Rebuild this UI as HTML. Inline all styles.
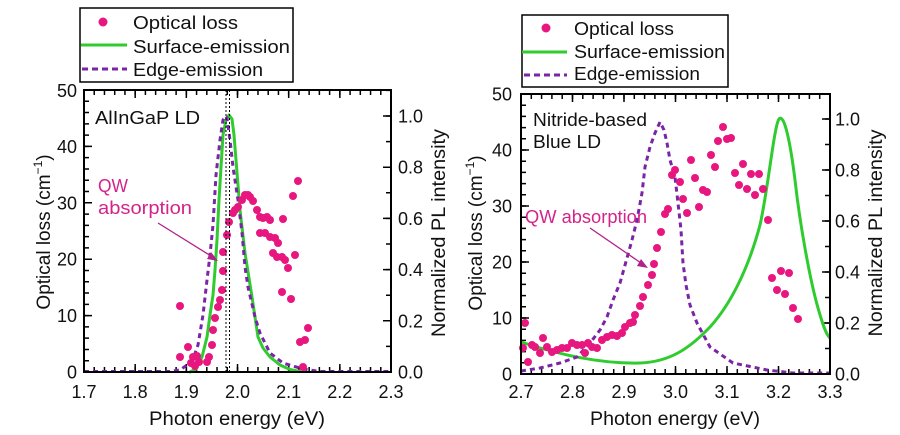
<!DOCTYPE html>
<html>
<head>
<meta charset="utf-8">
<style>
  html, body { margin: 0; padding: 0; background: #ffffff; }
  svg { display: block; }
  text { font-family: "Liberation Sans", "Noto Sans CJK JP", sans-serif; fill: #111; }
</style>
</head>
<body>
<svg width="900" height="435" viewBox="0 0 900 435" xmlns="http://www.w3.org/2000/svg">
  <rect x="0" y="0" width="900" height="435" fill="#ffffff"/>

  <!-- ================= LEFT CHART ================= -->
  <g stroke="#000" fill="none">
    <line x1="84" y1="369" x2="392" y2="369" stroke-width="4" stroke-dasharray="1.5 8.734" stroke-dashoffset="0.75"/>
    <line x1="84" y1="367.5" x2="392" y2="367.5" stroke-width="7" stroke-dasharray="1.5 49.67" stroke-dashoffset="0.75"/>
    <line x1="84" y1="93" x2="392" y2="93" stroke-width="4" stroke-dasharray="1.5 8.734" stroke-dashoffset="0.75"/>
    <line x1="84" y1="94.5" x2="392" y2="94.5" stroke-width="7" stroke-dasharray="1.5 49.67" stroke-dashoffset="0.75"/>
    <line x1="87" y1="372" x2="87" y2="89" stroke-width="4" stroke-dasharray="1.5 9.78" stroke-dashoffset="0.75"/>
    <line x1="88.5" y1="372" x2="88.5" y2="89" stroke-width="7" stroke-dasharray="1.5 54.9" stroke-dashoffset="0.75"/>
    <line x1="388" y1="372" x2="388" y2="89" stroke-width="4" stroke-dasharray="1.5 24.1" stroke-dashoffset="0.75"/>
    <line x1="386.5" y1="372" x2="386.5" y2="89" stroke-width="7" stroke-dasharray="1.5 49.7" stroke-dashoffset="0.75"/>
  </g>

  <polyline fill="none" stroke="#2fcb2f" stroke-width="3" stroke-linejoin="round" stroke-linecap="round"
    points="190,372 196,369 202,357 207,337 210,315 213,295 215,270 217,240 219,200 221,167 223,135 226,120 229,115 232,119 234,135 236,160 238,185 240,210 245,253 252,297 258,337 263,348 270,357 280,365 290,369.5 300,371.5"/>
  <polyline fill="none" stroke="#7a24a6" stroke-width="3" stroke-dasharray="5 4" stroke-linejoin="round"
    points="84,371.5 170,371.5 180,370 187,365 193,359 198,345 203,315 207,280 210,255 213,225 216,175 220,140 223,120 225,116 227,118 230,140 233,167 238,200 242,233 245,267 248,287 255,317 260,333 270,353 283,363 303,369 320,371.5 391,371.5"/>

  <g fill="#e8177f">
    <circle cx="180" cy="306" r="4"/><circle cx="180" cy="357" r="4"/><circle cx="188" cy="347" r="4"/>
    <circle cx="193" cy="357" r="4"/><circle cx="191" cy="363" r="4"/><circle cx="197" cy="356" r="4"/>
    <circle cx="199" cy="362" r="4"/><circle cx="195" cy="366" r="4"/><circle cx="207" cy="362" r="4"/>
    <circle cx="209" cy="357" r="4"/><circle cx="212" cy="345" r="4"/><circle cx="213" cy="330" r="4"/>
    <circle cx="215" cy="318" r="4"/><circle cx="218" cy="307" r="4"/><circle cx="220" cy="300" r="4"/>
    <circle cx="222" cy="290" r="4"/><circle cx="223" cy="271" r="4"/><circle cx="223" cy="252" r="4"/>
    <circle cx="227" cy="235" r="4"/><circle cx="229" cy="222" r="4"/><circle cx="233" cy="213" r="4"/>
    <circle cx="235" cy="210" r="4"/><circle cx="238" cy="207" r="4"/><circle cx="242" cy="200" r="4"/>
    <circle cx="245" cy="195" r="4"/><circle cx="248" cy="195" r="4"/><circle cx="250" cy="197" r="4"/>
    <circle cx="253" cy="201" r="4"/><circle cx="257" cy="210" r="4"/><circle cx="260" cy="217" r="4"/>
    <circle cx="263" cy="218" r="4"/><circle cx="267" cy="217" r="4"/><circle cx="270" cy="220" r="4"/>
    <circle cx="260" cy="233" r="4"/><circle cx="265" cy="233" r="4"/><circle cx="270" cy="237" r="4"/>
    <circle cx="275" cy="238" r="4"/><circle cx="278" cy="243" r="4"/><circle cx="283" cy="219" r="4"/>
    <circle cx="273" cy="253" r="4"/><circle cx="277" cy="257" r="4"/><circle cx="282" cy="257" r="4"/>
    <circle cx="285" cy="260" r="4"/><circle cx="288" cy="268" r="4"/><circle cx="295" cy="255" r="4"/>
    <circle cx="298" cy="181" r="4"/><circle cx="293" cy="196" r="4"/><circle cx="282" cy="292" r="4"/>
    <circle cx="291" cy="299" r="4"/><circle cx="308" cy="328" r="4"/><circle cx="300" cy="342" r="4"/>
    <circle cx="305" cy="340" r="4"/><circle cx="303" cy="367" r="4"/>
  </g>

  <line x1="226" y1="90" x2="226" y2="372" stroke="#000" stroke-width="1" stroke-dasharray="2 2"/>
  <line x1="229.5" y1="90" x2="229.5" y2="372" stroke="#000" stroke-width="1" stroke-dasharray="2 2"/>

  <rect x="84" y="90" width="307" height="282" fill="none" stroke="#000" stroke-width="2"/>

  <line x1="158" y1="223" x2="211" y2="256" stroke="#b3208a" stroke-width="1.3"/>
  <polygon points="218,261 207,259 211,252" fill="#b3208a"/>

  <text x="95" y="124" font-size="18" textLength="105" lengthAdjust="spacingAndGlyphs">AlInGaP LD</text>
  <text x="98" y="192" font-size="18" style="fill:#d4238a" textLength="30" lengthAdjust="spacingAndGlyphs">QW</text>
  <text x="98" y="214" font-size="18" style="fill:#d4238a" textLength="94" lengthAdjust="spacingAndGlyphs">absorption</text>

  <g font-size="18" text-anchor="end">
    <text x="77" y="378.5">0</text>
    <text x="77" y="322.1">10</text>
    <text x="77" y="265.7">20</text>
    <text x="77" y="209.3">30</text>
    <text x="77" y="152.9">40</text>
    <text x="77" y="97">50</text>
  </g>
  <g font-size="18">
    <text x="398" y="378.5">0.0</text>
    <text x="398" y="327.3">0.2</text>
    <text x="398" y="276.1">0.4</text>
    <text x="398" y="224.9">0.6</text>
    <text x="398" y="173.7">0.8</text>
    <text x="398" y="122.5">1.0</text>
  </g>
  <g font-size="18" text-anchor="middle">
    <text x="84" y="398">1.7</text>
    <text x="135.2" y="398">1.8</text>
    <text x="186.3" y="398">1.9</text>
    <text x="237.5" y="398">2.0</text>
    <text x="288.7" y="398">2.1</text>
    <text x="339.8" y="398">2.2</text>
    <text x="391" y="398">2.3</text>
  </g>
  <text x="149" y="425" font-size="19" textLength="176" lengthAdjust="spacingAndGlyphs">Photon energy (eV)</text>
  <text transform="translate(50,232) rotate(-90)" font-size="19" text-anchor="middle">Optical loss (cm<tspan font-size="12" dy="-8">−1</tspan><tspan dy="8">)</tspan></text>
  <text transform="translate(445,233) rotate(-90)" font-size="19" text-anchor="middle" textLength="208" lengthAdjust="spacingAndGlyphs">Normalized PL intensity</text>

  <rect x="80" y="8" width="213" height="74" fill="#fff" stroke="#000" stroke-width="1.5"/>
  <circle cx="103" cy="22" r="4.5" fill="#e8177f"/>
  <line x1="81" y1="45" x2="127" y2="45" stroke="#2fcb2f" stroke-width="3"/>
  <line x1="82" y1="69" x2="127" y2="69" stroke="#7a24a6" stroke-width="3" stroke-dasharray="6 4"/>
  <text x="133" y="29" font-size="18" textLength="105" lengthAdjust="spacingAndGlyphs">Optical loss</text>
  <text x="133" y="53" font-size="18" textLength="157" lengthAdjust="spacingAndGlyphs">Surface-emission</text>
  <text x="133" y="76" font-size="18" textLength="130" lengthAdjust="spacingAndGlyphs">Edge-emission</text>

  <!-- ================= RIGHT CHART ================= -->
  <g stroke="#000" fill="none">
    <line x1="521" y1="371" x2="831" y2="371" stroke-width="4" stroke-dasharray="1.5 8.8" stroke-dashoffset="0.75"/>
    <line x1="521" y1="369.5" x2="831" y2="369.5" stroke-width="7" stroke-dasharray="1.5 50" stroke-dashoffset="0.75"/>
    <line x1="521" y1="97" x2="831" y2="97" stroke-width="4" stroke-dasharray="1.5 8.8" stroke-dashoffset="0.75"/>
    <line x1="521" y1="98.5" x2="831" y2="98.5" stroke-width="7" stroke-dasharray="1.5 50" stroke-dashoffset="0.75"/>
    <line x1="524" y1="374" x2="524" y2="93" stroke-width="4" stroke-dasharray="1.5 9.7" stroke-dashoffset="0.75"/>
    <line x1="525.5" y1="374" x2="525.5" y2="93" stroke-width="7" stroke-dasharray="1.5 54.5" stroke-dashoffset="0.75"/>
    <line x1="827" y1="374" x2="827" y2="93" stroke-width="4" stroke-dasharray="1.5 24" stroke-dashoffset="0.75"/>
    <line x1="825.5" y1="374" x2="825.5" y2="93" stroke-width="7" stroke-dasharray="1.5 49.5" stroke-dashoffset="0.75"/>
  </g>

  <path fill="none" stroke="#2fcb2f" stroke-width="3" stroke-linejoin="round"
    d="M521,342 C560,355 600,364 640,363 C670,362 690,348 710,327 C730,305 748,270 760,225 C768,190 774,126 779,119 C784,113 790,140 795,180 C800,225 810,280 818,308 C822,322 826,335 830,338"/>
  <polyline fill="none" stroke="#7a24a6" stroke-width="3" stroke-dasharray="5 4" stroke-linejoin="round"
    points="521,371 540,368 560,363 577,357 590,343 600,330 607,317 613,300 620,283 627,258 632,240 637,220 642,193 645,167 650,147 655,133 660,122 664,130 667,143 670,160 675,177 678,203 681,230 683,263 686,285 690,305 697,323 710,347 733,363 767,370 793,373 830,373"/>

  <g fill="#e8177f">
    <circle cx="525" cy="323" r="4"/><circle cx="523" cy="348" r="4"/><circle cx="528" cy="362" r="4"/>
    <circle cx="532" cy="345" r="4"/><circle cx="535" cy="347" r="4"/><circle cx="540" cy="353" r="4"/>
    <circle cx="543" cy="338" r="4"/><circle cx="547" cy="347" r="4"/><circle cx="552" cy="352" r="4"/>
    <circle cx="557" cy="350" r="4"/><circle cx="562" cy="348" r="4"/><circle cx="567" cy="348" r="4"/>
    <circle cx="572" cy="343" r="4"/><circle cx="577" cy="345" r="4"/><circle cx="582" cy="345" r="4"/>
    <circle cx="585" cy="353" r="4"/><circle cx="588" cy="343" r="4"/><circle cx="592" cy="347" r="4"/>
    <circle cx="597" cy="348" r="4"/><circle cx="602" cy="340" r="4"/><circle cx="607" cy="337" r="4"/>
    <circle cx="612" cy="335" r="4"/><circle cx="617" cy="336" r="4"/><circle cx="622" cy="333" r="4"/>
    <circle cx="625" cy="327" r="4"/><circle cx="630" cy="323" r="4"/><circle cx="633" cy="322" r="4"/>
    <circle cx="635" cy="315" r="4"/><circle cx="640" cy="306" r="4"/><circle cx="643" cy="297" r="4"/>
    <circle cx="648" cy="285" r="4"/><circle cx="652" cy="275" r="4"/><circle cx="654" cy="264" r="4"/>
    <circle cx="657" cy="248" r="4"/><circle cx="661" cy="232" r="4"/><circle cx="665" cy="214" r="4"/>
    <circle cx="668" cy="209" r="4"/><circle cx="687" cy="213" r="4"/><circle cx="699" cy="207" r="4"/>
    <circle cx="683" cy="199" r="4"/><circle cx="707" cy="192" r="4"/><circle cx="703" cy="190" r="4"/>
    <circle cx="680" cy="182" r="4"/><circle cx="695" cy="178" r="4"/><circle cx="672" cy="175" r="4"/>
    <circle cx="675" cy="170" r="4"/><circle cx="691" cy="160" r="4"/><circle cx="711" cy="155" r="4"/>
    <circle cx="715" cy="167" r="4"/><circle cx="718" cy="141" r="4"/><circle cx="727" cy="139" r="4"/>
    <circle cx="731" cy="138" r="4"/><circle cx="723" cy="127" r="4"/><circle cx="735" cy="173" r="4"/>
    <circle cx="743" cy="164" r="4"/><circle cx="739" cy="185" r="4"/><circle cx="747" cy="189" r="4"/>
    <circle cx="755" cy="195" r="4"/><circle cx="751" cy="174" r="4"/><circle cx="759" cy="174" r="4"/>
    <circle cx="763" cy="189" r="4"/><circle cx="768" cy="220" r="4"/><circle cx="772" cy="278" r="4"/>
    <circle cx="781" cy="271" r="4"/><circle cx="789" cy="273" r="4"/><circle cx="777" cy="290" r="4"/>
    <circle cx="785" cy="294" r="4"/><circle cx="793" cy="308" r="4"/><circle cx="798" cy="319" r="4"/>
  </g>

  <rect x="521" y="94" width="309" height="280" fill="none" stroke="#000" stroke-width="2"/>

  <line x1="590" y1="228" x2="641" y2="263" stroke="#b3208a" stroke-width="1.3"/>
  <polygon points="648,268 637,266 641,259" fill="#b3208a"/>

  <text x="533" y="126" font-size="18" textLength="114" lengthAdjust="spacingAndGlyphs">Nitride-based</text>
  <text x="533" y="148" font-size="18" textLength="68" lengthAdjust="spacingAndGlyphs">Blue LD</text>
  <text x="525" y="223" font-size="18" style="fill:#d4238a" textLength="122" lengthAdjust="spacingAndGlyphs">QW absorption</text>

  <g font-size="18" text-anchor="end">
    <text x="512" y="380.5">0</text>
    <text x="512" y="324.5">10</text>
    <text x="512" y="268.5">20</text>
    <text x="512" y="212.5">30</text>
    <text x="512" y="156.5">40</text>
    <text x="512" y="100.5">50</text>
  </g>
  <g font-size="18">
    <text x="835" y="380.5">0.0</text>
    <text x="835" y="329.5">0.2</text>
    <text x="835" y="278.5">0.4</text>
    <text x="835" y="227.5">0.6</text>
    <text x="835" y="176.5">0.8</text>
    <text x="835" y="125.5">1.0</text>
  </g>
  <g font-size="18" text-anchor="middle">
    <text x="521" y="398">2.7</text>
    <text x="572.5" y="398">2.8</text>
    <text x="624" y="398">2.9</text>
    <text x="675.5" y="398">3.0</text>
    <text x="727" y="398">3.1</text>
    <text x="778.5" y="398">3.2</text>
    <text x="830" y="398">3.3</text>
  </g>
  <text x="590" y="425" font-size="19" textLength="170" lengthAdjust="spacingAndGlyphs">Photon energy (eV)</text>
  <text transform="translate(482,233) rotate(-90)" font-size="19" text-anchor="middle">Optical loss (cm<tspan font-size="12" dy="-8">−1</tspan><tspan dy="8">)</tspan></text>
  <text transform="translate(882,233) rotate(-90)" font-size="19" text-anchor="middle" textLength="207" lengthAdjust="spacingAndGlyphs">Normalized PL intensity</text>

  <rect x="522" y="15" width="206" height="72" fill="#fff" stroke="#000" stroke-width="1.5"/>
  <circle cx="546" cy="28" r="4.5" fill="#e8177f"/>
  <line x1="522" y1="52" x2="567" y2="52" stroke="#2fcb2f" stroke-width="3"/>
  <line x1="524" y1="75" x2="567" y2="75" stroke="#7a24a6" stroke-width="3" stroke-dasharray="6 4"/>
  <text x="574" y="35" font-size="18" textLength="100" lengthAdjust="spacingAndGlyphs">Optical loss</text>
  <text x="574" y="58" font-size="18" textLength="151" lengthAdjust="spacingAndGlyphs">Surface-emission</text>
  <text x="574" y="80" font-size="18" textLength="126" lengthAdjust="spacingAndGlyphs">Edge-emission</text>
</svg>
</body>
</html>
